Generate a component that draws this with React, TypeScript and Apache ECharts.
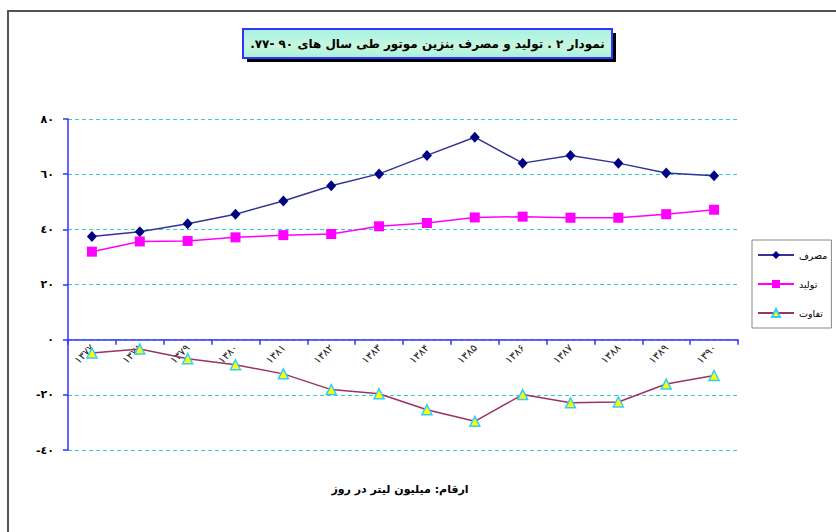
import React, { useEffect, useRef } from "react";
import * as echarts from "echarts";

const years = ["۱۳۷۷", "۱۳۷۸", "۱۳۷۹", "۱۳۸۰", "۱۳۸۱", "۱۳۸۲", "۱۳۸۳", "۱۳۸۴", "۱۳۸۵", "۱۳۸۶", "۱۳۸۷", "۱۳۸۸", "۱۳۸۹", "۱۳۹۰"];
const consumption = [37.4, 39.1, 42.0, 45.5, 50.3, 55.8, 60.1, 66.8, 73.4, 64.0, 66.8, 64.0, 60.4, 59.4];
const production = [31.9, 35.6, 35.8, 37.1, 37.9, 38.3, 41.1, 42.3, 44.3, 44.6, 44.2, 44.2, 45.5, 47.1];
const difference = [-4.8, -3.4, -6.9, -9.1, -12.4, -18.1, -19.6, -25.4, -29.6, -19.9, -22.9, -22.6, -16.1, -13.0];

const yTickValues = [-40, -20, 0, 20, 40, 60, 80];
const yTickLabels = ["-٤٠", "-٢٠", "٠", "٢٠", "٤٠", "٦٠", "٨٠"];

const seriesNames = ["مصرف", "تولید", "تفاوت"];
const titleText = "نمودار ۲ . تولید و مصرف بنزین موتور طی سال های ۹۰ -۷۷.\u200F";
const footerText = "ارقام: میلیون لیتر در روز";

const FONT = "DejaVu Sans, sans-serif";

const GRID_TOP = 119;
const GRID_BOTTOM = 82;
const CHART_H = 532;
const Y_MIN = -40;
const Y_MAX = 80;

export default function App() {
  const ref = useRef<HTMLDivElement>(null);
  useEffect(() => {
    document.body.style.margin = "0";
    const chart = echarts.init(ref.current!, undefined, { renderer: "svg" });
    const gridH = CHART_H - GRID_TOP - GRID_BOTTOM;
    const zeroOffset = (gridH * (0 - Y_MIN)) / (Y_MAX - Y_MIN);
    chart.setOption({
      animation: false,
      backgroundColor: "#ffffff",
      textStyle: { fontFamily: FONT },
      grid: { left: 68, right: 98, top: GRID_TOP, bottom: GRID_BOTTOM, containLabel: false },
      legend: {
        orient: "vertical",
        left: 752,
        top: 240,
        padding: [10, 4, 10, 5],
        itemGap: 19,
        itemWidth: 36,
        itemHeight: 10,
        borderColor: "#888888",
        borderWidth: 1,
        backgroundColor: "#ffffff",
        textStyle: { fontSize: 9.5, color: "#000", fontFamily: FONT },
        data: seriesNames,
      },
      xAxis: {
        type: "category",
        data: years,
        boundaryGap: true,
        position: "bottom",
        offset: -zeroOffset,
        axisLine: { onZero: false, lineStyle: { color: "#3333ff", width: 1.5 } },
        axisTick: { show: true, inside: false, length: 5, alignWithLabel: false, lineStyle: { color: "#3333ff", width: 1.5 } },
        axisLabel: { rotate: 45, fontSize: 10.5, color: "#222", margin: 6, fontFamily: FONT, interval: 0 },
        splitLine: { show: false },
      },
      yAxis: {
        type: "value",
        min: Y_MIN,
        max: Y_MAX,
        interval: 20,
        axisLine: { show: true, onZero: false, lineStyle: { color: "#3333ff", width: 1.5 } },
        axisTick: { show: true, length: 5, lineStyle: { color: "#3333ff", width: 1.5 } },
        axisLabel: {
          fontSize: 11,
          fontWeight: "bold",
          color: "#000",
          margin: 14,
          fontFamily: FONT,
          formatter: (v: number) => {
            const i = yTickValues.indexOf(v);
            return i >= 0 ? yTickLabels[i] : String(v);
          },
        },
        splitLine: { show: true, lineStyle: { color: "#33cccc", type: [4, 3], width: 1 } },
      },
      series: [
        {
          name: seriesNames[0],
          type: "line",
          data: consumption,
          symbol: "diamond",
          symbolSize: [10, 11],
          lineStyle: { color: "#333399", width: 1.5 },
          itemStyle: { color: "#000080" },
        },
        {
          name: seriesNames[1],
          type: "line",
          data: production,
          symbol: "rect",
          symbolSize: 10,
          lineStyle: { color: "#ff00ff", width: 1.5 },
          itemStyle: { color: "#ff00ff" },
        },
        {
          name: seriesNames[2],
          type: "line",
          data: difference,
          symbol: "triangle",
          symbolSize: 10,
          lineStyle: { color: "#993366", width: 1.5 },
          itemStyle: { color: "#ffff00", borderColor: "#33ccff", borderWidth: 1.5 },
        },
      ],
      graphic: [
        {
          type: "rect",
          silent: true,
          z: -10,
          shape: { x: 8, y: 11, width: 850, height: 550 },
          style: { fill: "none", stroke: "#555555", lineWidth: 2 },
        },
        {
          type: "rect",
          silent: true,
          shape: { x: 247, y: 33, width: 369, height: 29 },
          style: { fill: "#000000" },
        },
        {
          type: "rect",
          silent: true,
          shape: { x: 243, y: 29, width: 369, height: 29 },
          style: {
            fill: new echarts.graphic.LinearGradient(0, 0, 0, 1, [
              { offset: 0, color: "#a6f2e6" },
              { offset: 0.6, color: "#c8f7dc" },
              { offset: 1, color: "#a6f0dc" },
            ]),
            stroke: "#3333ff",
            lineWidth: 2,
          },
        },
        {
          type: "text",
          silent: true,
          x: 427.5,
          y: 44,
          style: {
            text: titleText,
            fontSize: 12,
            fontWeight: "bold",
            fontFamily: FONT,
            fill: "#000",
            align: "center",
            verticalAlign: "middle",
          },
        },
        {
          type: "text",
          silent: true,
          x: 400,
          y: 489,
          style: {
            text: footerText,
            fontSize: 11,
            fontWeight: "bold",
            fontFamily: FONT,
            fill: "#000",
            align: "center",
            verticalAlign: "middle",
          },
        },
      ],
    });
    return () => chart.dispose();
  }, []);
  return <div ref={ref} style={{ width: 836, height: 532 }} />;
}
